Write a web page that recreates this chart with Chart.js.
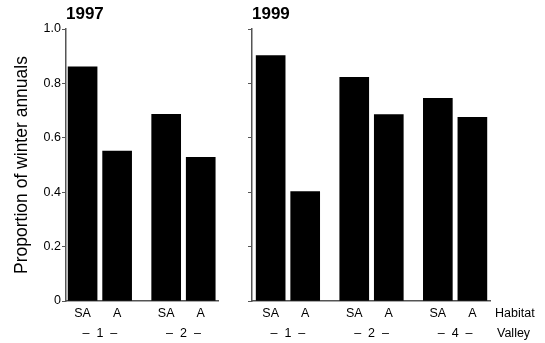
<!DOCTYPE html>
<html>
<head>
<meta charset="utf-8">
<script src="https://cdn.jsdelivr.net/npm/chart.js@4.4.0/dist/chart.umd.min.js"></script>
<style>
  body { margin: 0; background: #fff; }
  #wrap { position: relative; width: 545px; height: 343px; }
  canvas { position: absolute; top: 0; }
</style>
</head>
<body>
<div id="wrap">
  <canvas id="c1997" width="232" height="343" style="left:0"></canvas>
  <canvas id="c1999" width="313" height="343" style="left:232px"></canvas>
</div>
<script>
"use strict";
// data
var habitats1997 = ["SA", "A", "SA", "A"];
var valleys1997 = ["1", "2"];
var values1997 = [0.861, 0.551, 0.686, 0.528];

var habitats1999 = ["SA", "A", "SA", "A", "SA", "A"];
var valleys1999 = ["1", "2", "4"];
var values1999 = [0.902, 0.402, 0.822, 0.685, 0.745, 0.675];

var yTicks = [0, 0.2, 0.4, 0.6, 0.8, 1.0];

var FONT = "'Liberation Sans', Arial, Helvetica, sans-serif";
var AXIS = "#555";
var TICK_SIZE = 12.5;
var GAP = 0.42; // extra space between valley groups

function barPos(i) { return 1 + i + GAP * Math.floor(i / 2); }
function groupPos(g) { return (barPos(2 * g) + barPos(2 * g + 1)) / 2; }

function makeChart(id, year, habitats, valleys, values, showYLabels, xMin, xMax, yWidth, padRight, rowNames) {
    var points = values.map(function (v, i) { return { x: barPos(i), y: v }; });
    var ctx = document.getElementById(id);
    return new Chart(ctx, {
        type: 'bar',
        data: {
            datasets: [{
                data: points,
                backgroundColor: "#000",
                borderWidth: 0,
                barThickness: 29
            }]
        },
        options: {
            responsive: false,
            animation: false,
            devicePixelRatio: 1,
            layout: { padding: { left: 0, right: padRight, top: 0, bottom: 0 } },
            plugins: {
                legend: { display: false },
                tooltip: { enabled: false },
                title: {
                    display: true,
                    text: year,
                    align: 'start',
                    fullSize: false,
                    color: "#000",
                    font: { family: FONT, size: 17, weight: 'bold' },
                    padding: { top: 4, bottom: 4.6 }
                }
            },
            scales: {
                x: {
                    type: 'linear',
                    position: 'bottom',
                    weight: 0,
                    offset: false,
                    min: xMin,
                    max: xMax,
                    grid: { display: false, drawTicks: false },
                    border: { color: AXIS, width: 1.5 },
                    afterBuildTicks: function (s) {
                        s.ticks = habitats.map(function (h, i) { return { value: barPos(i) }; });
                    },
                    afterFit: function (s) { s.height = 20; },
                    ticks: {
                        autoSkip: false,
                        maxRotation: 0,
                        padding: 5.5,
                        color: "#000",
                        font: { family: FONT, size: TICK_SIZE },
                        callback: function (v, i) { return habitats[i]; }
                    }
                },
                valley: {
                    type: 'linear',
                    position: 'bottom',
                    axis: 'x',
                    weight: 1,
                    offset: false,
                    min: xMin,
                    max: xMax,
                    grid: { display: false, drawTicks: false },
                    border: { display: false },
                    afterBuildTicks: function (s) {
                        s.ticks = valleys.map(function (v, g) { return { value: groupPos(g) }; });
                    },
                    afterFit: function (s) { s.height = 22; },
                    ticks: {
                        autoSkip: false,
                        maxRotation: 0,
                        padding: 5.5,
                        color: "#000",
                        font: { family: FONT, size: TICK_SIZE },
                        callback: function (v, i) { return "\u2013  " + valleys[i] + "  \u2013"; }
                    }
                },
                y: {
                    min: 0,
                    max: 1,
                    afterBuildTicks: function (s) {
                        s.ticks = yTicks.map(function (t) { return { value: t }; });
                    },
                    afterFit: function (s) { s.width = yWidth; },
                    grid: { drawOnChartArea: false, drawTicks: true, tickLength: 4, color: AXIS, lineWidth: 1 },
                    border: { color: AXIS, width: 1.5 },
                    title: {
                        display: showYLabels,
                        text: "Proportion of winter annuals",
                        color: "#000",
                        font: { family: FONT, size: 17.5 },
                        padding: { top: 12, bottom: 0 }
                    },
                    ticks: {
                        display: showYLabels,
                        padding: 1,
                        color: "#000",
                        font: { family: FONT, size: TICK_SIZE },
                        callback: function (v) { return v === 0 ? "0" : v.toFixed(1); }
                    }
                }
            }
        },
        plugins: [{
            id: 'rowNames',
            afterDraw: function (chart) {
                if (!rowNames) return;
                var c = chart.ctx;
                var x = chart.chartArea.right + 5;
                var sx = chart.scales.x, sv = chart.scales.valley;
                c.save();
                c.fillStyle = "#000";
                c.font = TICK_SIZE + "px " + FONT;
                c.textAlign = "left";
                c.textBaseline = "middle";
                c.fillText("Habitat", x, sx.top + 5.5 + TICK_SIZE * 1.2 / 2);
                c.fillText("Valley", x + 2, sv.top + 5.5 + TICK_SIZE * 1.2 / 2);
                c.restore();
            }
        }]
    });
}

makeChart("c1997", "1997", habitats1997, valleys1997, values1997, true, 0.52, 4.92, 66, 14, false);
makeChart("c1999", "1999", habitats1999, valleys1999, values1999, false, 0.46, 7.35, 20, 55, true);
</script>
</body>
</html>
